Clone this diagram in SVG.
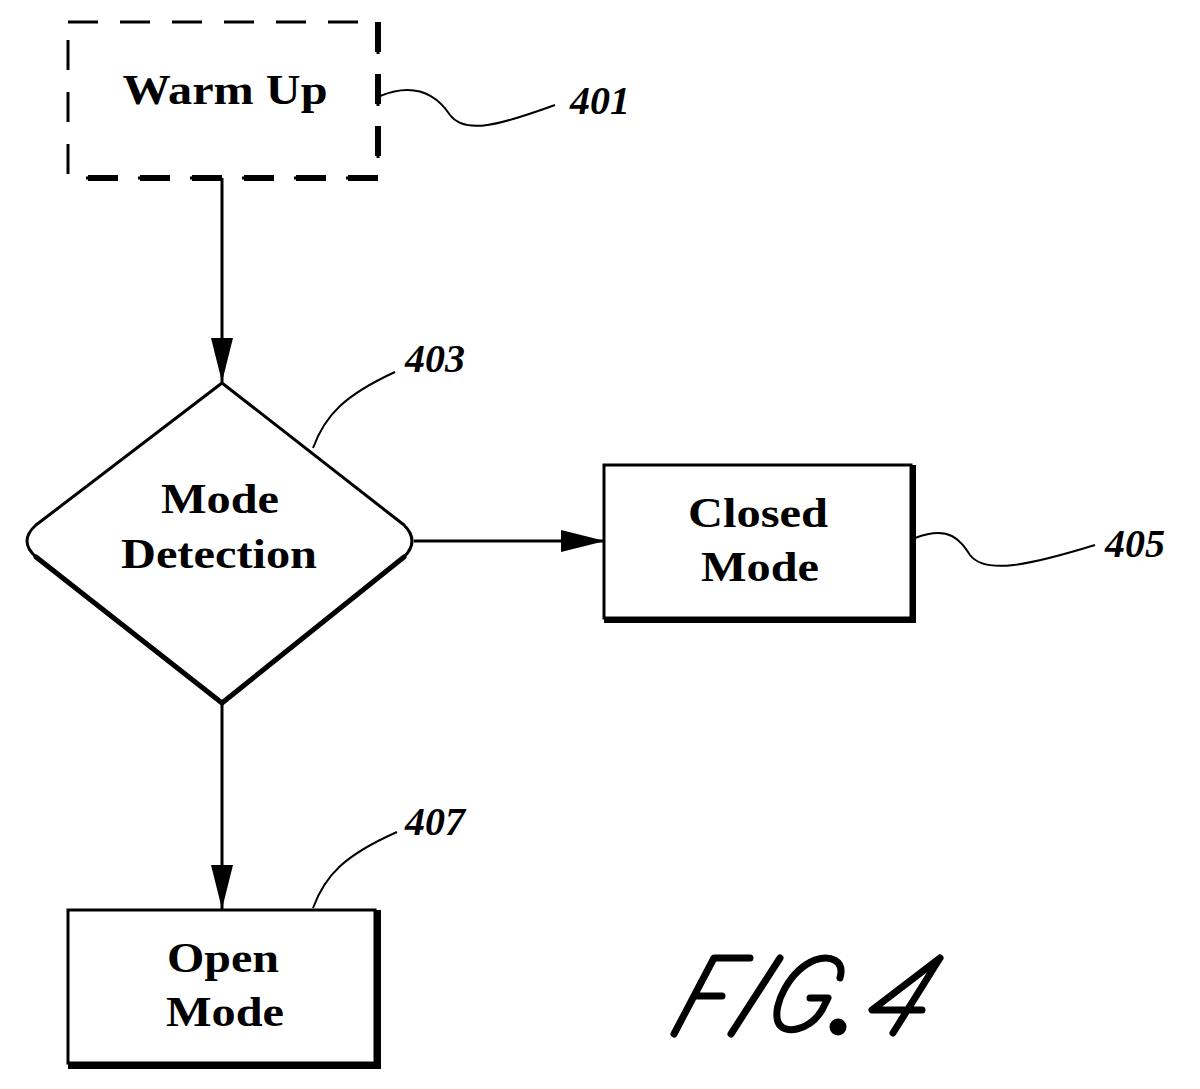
<svg xmlns="http://www.w3.org/2000/svg" width="1200" height="1089" viewBox="0 0 1200 1089">
<style>
.t{font-family:"Liberation Serif",serif;font-weight:bold;font-size:42px;text-anchor:middle}
.n{font-family:"Liberation Serif",serif;font-weight:bold;font-style:italic;font-size:40px}
.b{fill:#fff;stroke:#000;stroke-width:3}
.l{fill:none;stroke:#000;stroke-width:2}
</style>
<defs><marker id="a" markerWidth="44" markerHeight="22" refX="44" refY="11" orient="auto" markerUnits="userSpaceOnUse"><path d="M0,0L44,11L0,22z"/></marker></defs>
<rect width="1200" height="1089" fill="#fff"/>
<g id="connectors" stroke="#000" stroke-width="3" fill="none">
<path d="M222,178V382" marker-end="url(#a)"/>
<path d="M414,541H605" marker-end="url(#a)"/>
<path d="M222,703V909" marker-end="url(#a)"/>
</g>
<g id="n401">
<path d="M68,22H378V178H68Z" fill="none" stroke="#000" stroke-width="3" stroke-dasharray="30,22"/>
<path d="M378,22V178H68" fill="none" stroke="#000" stroke-width="6" stroke-dasharray="30,22"/>
<text class="t" x="225" y="104" textLength="205" lengthAdjust="spacingAndGlyphs">Warm Up</text>
<path class="l" d="M380,96C420,80 440,100 450,115C465,135 500,125 555,105"/>
<text class="n" x="570" y="114">401</text>
</g>
<g id="n403">
<path class="b" d="M222,383L404,525Q420,541 404,557L222,703L36,557Q18,541 36,525Z" stroke-width="3"/>
<path d="M404,557L222,703L36,557" fill="none" stroke="#000" stroke-width="5" stroke-linecap="round"/>
<text class="t" x="220" y="513" textLength="118" lengthAdjust="spacingAndGlyphs">Mode</text>
<text class="t" x="219" y="568" textLength="196" lengthAdjust="spacingAndGlyphs">Detection</text>
<path class="l" d="M313,448C325,415 345,395 395,372"/>
<text class="n" x="405" y="372">403</text>
</g>
<g id="n405">
<rect class="b" x="604" y="465" width="307" height="153"/>
<path d="M913,465V620H604" fill="none" stroke="#000" stroke-width="6"/>
<text class="t" x="758" y="527" textLength="140" lengthAdjust="spacingAndGlyphs">Closed</text>
<text class="t" x="760" y="581" textLength="118" lengthAdjust="spacingAndGlyphs">Mode</text>
<path class="l" d="M915,538C950,525 960,540 970,555C985,575 1030,565 1095,545"/>
<text class="n" x="1105" y="557">405</text>
</g>
<g id="n407">
<rect class="b" x="68" y="910" width="307" height="153"/>
<path d="M378,910V1066H68" fill="none" stroke="#000" stroke-width="6"/>
<text class="t" x="223" y="972" textLength="112" lengthAdjust="spacingAndGlyphs">Open</text>
<text class="t" x="225" y="1026" textLength="118" lengthAdjust="spacingAndGlyphs">Mode</text>
<path class="l" d="M313,908C325,875 345,855 397,832"/>
<text class="n" x="405" y="835">407</text>
</g>
<g id="fig" fill="none" stroke="#000" stroke-width="7" stroke-linecap="round" stroke-linejoin="round">
<path d="M674,1034L714,958H750M694,996H722"/>
<path d="M731,1034L780,958"/>
<path d="M840,978C845,960 830,955 815,960C790,970 772,1005 778,1022C784,1036 810,1030 822,1010L828,998H810"/>
<circle cx="838" cy="1027" r="5" fill="#000"/>
<path d="M940,958L893,1033M940,958L872,1010H922"/>
</g>
</svg>
